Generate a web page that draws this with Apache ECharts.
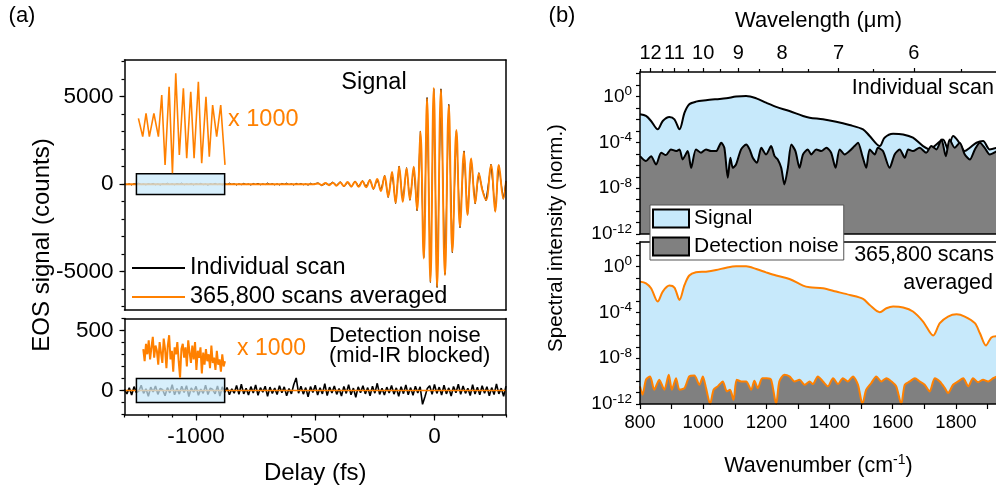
<!DOCTYPE html>
<html>
<head>
<meta charset="utf-8">
<script src="https://cdn.jsdelivr.net/npm/echarts@6/dist/echarts.min.js"></script>
<style>html,body{margin:0;padding:0;background:#fff}#c{width:996px;height:493px}</style>
</head>
<body>
<div id="c"></div>
<script>
// ================= DATA =================
// ---- (a) top: EOS signal (counts) vs delay (fs) ----
const avgDelay = [-1300, -1000, -700, -504,
  -488,-473,-457,-442,-426,-411,-395,-380,-364,-349,
  -333,-318,-302,-287,-271,-256,-240,-225,-209,-194,
  -178,-163,-148,-133,-117,-103,-87,-73,-59,-45,
  -31,-17,-3,11,27,44,60,75,92,107,
  124,139,154,171,186,201,216,237,255,270,289,300];
const avgSignal = [0, 0, 0, 0,
  40,-50,60,-60,80,-90,100,-110,120,-130,
  140,-150,160,-180,220,-260,300,-400,460,-720,
  700,-1070,990,-1010,900,-880,990,-1480,2990,-4250,
  4900,-5580,5500,-5870,5400,-5200,4510,-3870,3090,-2440,
  1850,-1770,1470,-1090,610,-350,-910,1090,-1580,1090,-820,150];

const scanFlatStart = -1300, scanFlatStep = 10;
const scanFlatSignal = [12,-30,20,-50,38,-15,55,-25,10,-45, 30,-20,45,-38,15,-55,25,-12,50,-30,
  20,-40,35,-10,60,-45,15,-25,40,-50, 25,-15,45,-35,10,-60,30,-20,50,-25,
  15,-45,38,-30,55,-15,25,-50,20,-35, 45,-25,12,-55,35,-20,50,-40,15,-30,
  60,-25,30,-45,20,-50,40,-15,55,-35, 25,-55,45,-20,35,-40,15,-60,50,-25, 30];
const scanPulseDelay = [-488,-473,-457,-442,-426,-411,-395,-380,-364,-349,
  -333,-318,-302,-287,-271,-256,-240,-225,-209,-194,
  -178,-163,-148,-133,-117,-103,-87,-73,-59,-45,
  -31,-17,-3,11,27,44,60,75,92,107,
  124,139,154,171,186,201,216,237,255,270,289,300];
const scanPulseSignal = [70,-90,30,-20,120,-60,140,-150,90,-170,
  180,-110,200,-140,260,-300,250,-360,500,-760,
  660,-1110,1030,-960,940,-920,950,-1520,3040,-4200,
  4950,-5620,5450,-5910,5450,-5160,4560,-3920,3040,-2490,
  1900,-1720,1420,-1130,650,-300,-950,1130,-1540,1050,-860,190];

// inset (x 1000) of averaged signal inside the box
const insetDelay = [-1244,-1226,-1212,-1198,-1179,-1160,-1146,-1132,-1115,-1101,-1087,-1072,
  -1055,-1041,-1024,-1010,-992,-978,-960,-946,-932,-915,-898,-880];
const insetSignalX1000 = [200,-1970,790,-1970,790,-1970,2950,-5310,3930,-6290,5510,-4130,
  3740,-4520,3340,-4520,4520,-5110,2750,-4330,1770,-1970,1770,-5310];

// ---- (a) bottom: detection noise (counts) ----
const noiseStart = -1300, noiseStep = 10;
const noiseScan = [10,-28,22,-38,32,-18,-4,44,-24,14,
  -48,28,-12,38,-32,18,6,-44,24,-20,
  48,-36,16,-30,36,-16,40,-50,22,-14,
  34,-40,12,-24,44,-34,20,8,-28,38,
  -46,30,-16,24,-36,14,-22,42,-32,52,
  -28,18,-38,32,-20,46,-40,24,-14,36,
  -48,28,-24,20,-34,40,-18,30,-44,16,
  -28,50,105,-22,36,-30,24,-52,32,-16,
  44,-38,22,-28,56,-42,28,-20,38,-32,
  16,-46,34,-24,48,-36,20,-56,30,-18,
  40,-28,24,-44,36,-22,60,-32,18,-38,
  28,-20,42,-30,22,-48,32,-26,46,-36,
  24,-40,36,-20,30,-115,-52,16,40,-32,
  50,-24,28,-38,44,-28,22,-46,34,-18,
  52,-32,38,-24,18,-42,48,-30,28,-36,
  40,-22,32,-44,24,-34,54,-28,20,-48, 36];
const avgNoiseDelay = [-1300, 300];
const avgNoiseCounts = [0, 0];
const insetNoiseStart = -1240, insetNoiseEnd = -880;
const insetNoiseX1000 = [8,-6,14,2,18,-4,10,22,-2,12,6,-10,16,4,-8,20,8,-14,12,24,-4,6,-18,10,2,16,-6,-25,8,14,
  -2,10,-12,18,4,-8,12,-4,16,-16,6,-2,10,-20,4,-10,8,-6,2,-14,12,-8,-2,-16,6,-10,-4,-18,2,-12,-6];

// box (light blue) regions magnified in the insets
const boxDelay = [-1250, -880];
const boxSignalCounts = [-600, 600];
const boxNoiseCounts = [-100, 100];

// ---- (b) spectra: wavenumber (cm-1) and log10(intensity) ----
const scanWn = [800,819,835,856,872,893,909,925,941,956,977,1009,1041,1073,1104,1136,1168,1199,1231,1273,
  1316,1337,1379,1421,1463,1506,1527,1559,1574,1601,1633,1664,1696,1717,1738,1759,1775,1791,1807,1828,
  1844,1865,1886,1907,1930];
const scanSignalLog10 = [-1.55,-1.69,-2.13,-2.86,-2.13,-1.78,-1.98,-2.86,-1.40,-0.67,-0.44,-0.32,-0.23,-0.15,0,0.06,-0.15,-0.53,-0.9,-1.26,
  -1.69,-1.84,-1.98,-2.19,-2.48,-2.86,-3.44,-4.32,-3.59,-3.24,-3.30,-3.59,-4.32,-4.61,-4.18,-3.74,-4.61,-3.44,-3.88,-4.76,
  -4.47,-4.03,-3.88,-4.61,-4.47];
const scanNoiseWn = [800,819,835,851,867,882,898,914,925,935,951,962,977,993,1009,1025,1041,1057,1067,1078,
  1086,1094,1104,1120,1136,1147,1157,1170,1184,1199,1215,1226,1236,1247,1257,1268,1279,1292,1305,1316,
  1331,1342,1358,1374,1390,1405,1419,1432,1448,1463,1479,1490,1504,1516,1527,1543,1553,1569,1590,1606,
  1622,1638,1649,1664,1685,1706,1722,1738,1754,1768,1780,1796,1812,1828,1844,1860,1876,1891,1907,1930];
const scanNoiseLog10 = [-5.20,-5.63,-5.20,-5.93,-4.90,-5.11,-4.61,-4.76,-4.61,-5.49,-4.76,-6.22,-4.61,-4.90,-4.61,-4.76,-4.76,-4.03,-4.47,-7.09,
  -5.34,-6.22,-5.93,-4.61,-4.18,-4.61,-5.34,-5.78,-4.47,-5.05,-4.32,-5.20,-5.49,-6.22,-7.68,-6.22,-4.18,-4.76,-6.22,-5.05,
  -4.61,-5.05,-4.61,-4.76,-4.47,-4.90,-6.22,-4.61,-5.05,-4.76,-4.32,-4.03,-5.20,-6.22,-4.61,-5.05,-4.47,-4.76,-6.22,-5.05,
  -4.61,-5.34,-4.61,-4.76,-4.47,-4.90,-4.32,-4.61,-3.74,-5.20,-3.74,-4.47,-4.03,-5.05,-5.49,-4.61,-4.03,-4.47,-5.05,-4.76];
const avgWn = [800,819,835,856,872,893,909,925,941,956,977,1009,1041,1073,1104,1136,1168,1199,1231,1273,
  1316,1337,1379,1421,1463,1506,1527,1559,1580,1601,1633,1664,1696,1728,1749,1775,1802,1828,1860,1876,1895,1912,1930];
const avgSignalLog10 = [-1.31,-1.46,-1.89,-3.05,-2.18,-1.66,-1.83,-2.91,-1.60,-0.78,-0.50,-0.44,-0.30,-0.09,0.03,0.03,-0.21,-0.50,-0.78,-1.08,
  -1.66,-1.80,-1.89,-2.18,-2.47,-2.82,-3.35,-3.98,-3.64,-3.49,-3.57,-3.92,-4.80,-6.02,-4.94,-4.36,-4.16,-4.36,-4.94,-5.82,-6.89,-6.19,-6.08];
const avgNoiseWn = [800,808,819,832,845,861,877,891,901,914,925,941,956,972,988,999,1009,1022,1033,1046,
  1062,1075,1085,1096,1106,1120,1136,1152,1162,1173,1187,1201,1215,1231,1241,1257,1273,1289,1305,1321,
  1337,1347,1363,1379,1395,1411,1427,1442,1458,1474,1490,1504,1516,1532,1548,1564,1580,1596,1611,1627,
  1638,1654,1670,1685,1701,1717,1733,1749,1765,1775,1791,1807,1823,1839,1854,1870,1886,1902,1918,1930];
const avgNoiseLog10 = [-10.46,-11.19,-9.88,-9.59,-10.75,-9.88,-10.75,-9.45,-10.75,-9.74,-10.75,-10.61,-9.59,-9.51,-10.32,-9.59,-10.61,-12,-10.75,-10.46,
  -10.03,-10.90,-10.75,-11.63,-9.88,-10.03,-10.03,-10.75,-9.97,-10.61,-9.74,-9.74,-9.88,-12,-10.03,-9.45,-9.59,-10.03,-9.88,-10.32,
  -10.03,-10.26,-9.59,-10.03,-10.46,-9.74,-10.26,-9.74,-10.03,-9.59,-10.32,-12,-10.75,-10.17,-9.59,-10.03,-9.74,-10.03,-10.46,-12,
  -10.32,-10.03,-9.74,-10.03,-10.32,-10.90,-9.74,-10.03,-10.61,-11.04,-10.32,-10.03,-9.74,-10.46,-9.74,-10.09,-9.88,-10.03,-9.74,-9.59];

// ---- tick labels ----
const delayLabels = [-1000, -500, 0];
const countsLabels = [-5000, 0, 5000];
const noiseLabels = [0, 500];
const wnLabels = [800, 1000, 1200, 1400, 1600, 1800];
const wavelengthLabels = [12, 11, 10, 9, 8, 7, 6];
const wavelengthMinor = [12.5, 11.5, 10.5, 9.5, 8.5, 7.5, 6.5, 5.5];
const logLabelExp = [-12, -8, -4, 0];

// ================= BUILD =================
const FONT = "'Liberation Sans', Arial, sans-serif";
const ORANGE = '#ff8000', BLUE = '#c7e9fb', GREY = '#808080';
const LINE = {color: '#000', width: 1.5};
const TICK = {color: '#000', width: 1.2};
const zip = (xs, ys) => xs.map((x, i) => [x, ys[i]]);
const zipPow = (xs, es) => xs.map((x, i) => [x, Math.pow(10, es[i])]);
const range = (a, b, s) => { const r = []; for (let v = a; v <= b + 1e-9; v += s) r.push(v); return r; };

const scanData = scanFlatSignal.map((v, i) => [scanFlatStart + i * scanFlatStep, v]).concat(zip(scanPulseDelay, scanPulseSignal));
const avgData = zip(avgDelay, avgSignal);
const insetData = zip(insetDelay, insetSignalX1000);
const noiseData = noiseScan.map((v, i) => [noiseStart + i * noiseStep, v]);
const insetNoiseStep = (insetNoiseEnd - insetNoiseStart) / (insetNoiseX1000.length - 1);
const insetNoiseData = insetNoiseX1000.map((v, i) => [insetNoiseStart + i * insetNoiseStep, v]);

const LOGMIN = 1e-12, LOGMAX = Math.pow(10, 2.15);
const decades = range(-12, 2, 1).map(e => Math.pow(10, e));
const logLabels = logLabelExp.map(e => Math.pow(10, e));

function frame(g, pos, min, max, type) {
  return {gridIndex: g, type: type || 'value', position: pos, min: min, max: max, z: 10,
    axisLine: {show: true, onZero: false, lineStyle: LINE},
    axisTick: {show: false}, axisLabel: {show: false}, splitLine: {show: false}};
}
function ticks(g, pos, min, max, vals, len, type) {
  return {gridIndex: g, type: type || 'value', position: pos, min: min, max: max, z: 10,
    axisLine: {show: false, onZero: false},
    axisTick: {show: true, customValues: vals, length: len, lineStyle: TICK},
    axisLabel: {show: false}, splitLine: {show: false}};
}
function hidden(g, min, max) {
  return {gridIndex: g, type: 'value', min: min, max: max, show: false, splitLine: {show: false}};
}
const lbl = (vals, size, margin, fmt) => ({show: true, customValues: vals, fontSize: size, margin: margin,
  color: '#000', fontFamily: FONT, formatter: fmt || (v => String(v))});
const logFmt = v => '{b|10}{s|' + Math.round(Math.log10(v)) + '}';
const logRich = {b: {fontSize: 19, fontFamily: FONT, color: '#000', lineHeight: 24},
                 s: {fontSize: 13.5, fontFamily: FONT, color: '#000', verticalAlign: 'top', lineHeight: 13}};

const xAxis = [
  frame(0, 'bottom', -1300, 300),
  frame(0, 'top', -1300, 300),
  Object.assign(frame(1, 'bottom', -1300, 300), {
    axisTick: {show: true, customValues: delayLabels, length: 6, lineStyle: TICK},
    axisLabel: lbl(delayLabels, 22.5, 11),
    name: 'Delay (fs)', nameLocation: 'middle', nameGap: 47,
    nameTextStyle: {fontSize: 24, fontFamily: FONT, color: '#000'}}),
  ticks(1, 'bottom', -1300, 300, range(-1300, 300, 100), 3),
  frame(1, 'top', -1300, 300),
  frame(2, 'bottom', 800, 1930),
  Object.assign(frame(2, 'top', 800, 1930), {
    axisTick: {show: true, customValues: wavelengthLabels.map(l => 1e4 / l), length: 4, lineStyle: TICK},
    axisLabel: lbl(wavelengthLabels.map(l => 1e4 / l), 20, 9, v => String(Math.round(1e4 / v))),
    name: 'Wavelength (\u03bcm)', nameLocation: 'middle', nameGap: 40,
    nameTextStyle: {fontSize: 22, fontFamily: FONT, color: '#000'}}),
  ticks(2, 'top', 800, 1930, wavelengthMinor.map(l => 1e4 / l), 3),
  Object.assign(frame(3, 'bottom', 800, 1930), {
    axisTick: {show: true, customValues: range(800, 1900, 100), length: 5, lineStyle: TICK},
    axisLabel: lbl(wnLabels, 18.5, 9),
    name: 'Wavenumber (cm{s|-1})', nameLocation: 'middle', nameGap: 49,
    nameTextStyle: {fontSize: 21.5, fontFamily: FONT, color: '#000', lineHeight: 26,
      rich: {s: {fontSize: 14, fontFamily: FONT, color: '#000', verticalAlign: 'top', lineHeight: 14}}}}),
  frame(3, 'top', 800, 1930),
  hidden(4, -1250, -880),
  hidden(5, -1250, -880)
];

const yAxis = [
  Object.assign(frame(0, 'left', -7200, 7100), {
    axisTick: {show: true, customValues: countsLabels, length: 5, lineStyle: TICK},
    axisLabel: lbl(countsLabels, 22.5, 11)}),
  ticks(0, 'left', -7200, 7100, range(-7000, 7000, 1000), 3),
  frame(0, 'right', -7200, 7100),
  Object.assign(frame(1, 'left', -200, 600), {
    axisTick: {show: true, customValues: noiseLabels, length: 5, lineStyle: TICK},
    axisLabel: lbl(noiseLabels, 22.5, 11)}),
  ticks(1, 'left', -200, 600, range(-200, 600, 100), 3),
  frame(1, 'right', -200, 600),
  Object.assign(frame(2, 'left', LOGMIN, LOGMAX, 'log'), {
    axisTick: {show: true, customValues: decades, length: 4, lineStyle: TICK},
    axisLabel: Object.assign(lbl(logLabels, 19, 8, logFmt), {rich: logRich})}),
  frame(2, 'right', LOGMIN, LOGMAX, 'log'),
  Object.assign(frame(3, 'left', LOGMIN, LOGMAX, 'log'), {
    axisTick: {show: true, customValues: decades, length: 4, lineStyle: TICK},
    axisLabel: Object.assign(lbl(logLabels, 19, 8, logFmt), {rich: logRich})}),
  frame(3, 'right', LOGMIN, LOGMAX, 'log'),
  hidden(4, -6500, 6500),
  hidden(5, -30, 30)
];

const boxStyle = {color: 'rgba(199,233,251,0.72)', borderColor: '#000', borderWidth: 1.5};
const line = (o) => Object.assign({type: 'line', symbol: 'none', showSymbol: false, animation: false}, o);

const series = [
  line({name: 'Individual scan', xAxisIndex: 0, yAxisIndex: 0, data: scanData, z: 2,
    lineStyle: {color: '#000', width: 1}, itemStyle: {color: '#000'}}),
  line({name: '365,800 scans averaged', xAxisIndex: 0, yAxisIndex: 0, data: avgData, smooth: 0.4, z: 3,
    lineStyle: {color: ORANGE, width: 2}, itemStyle: {color: ORANGE}}),
  line({name: 'signal box', xAxisIndex: 0, yAxisIndex: 0, data: [], z: 5,
    markArea: {silent: true, z: 5, itemStyle: boxStyle, label: {show: false},
      data: [[{coord: [boxDelay[0], boxSignalCounts[0]]}, {coord: [boxDelay[1], boxSignalCounts[1]]}]]}}),
  line({name: 'signal x1000', xAxisIndex: 10, yAxisIndex: 10, data: insetData, z: 6,
    lineStyle: {color: ORANGE, width: 1.6}, itemStyle: {color: ORANGE}}),
  line({name: 'noise scan', xAxisIndex: 2, yAxisIndex: 3, data: noiseData, z: 2,
    lineStyle: {color: '#000', width: 1.6}, itemStyle: {color: '#000'}}),
  line({name: 'noise averaged', xAxisIndex: 2, yAxisIndex: 3, data: zip(avgNoiseDelay, avgNoiseCounts), z: 3,
    lineStyle: {color: ORANGE, width: 1.5}, itemStyle: {color: ORANGE}}),
  line({name: 'noise box', xAxisIndex: 2, yAxisIndex: 3, data: [], z: 5,
    markArea: {silent: true, z: 5, itemStyle: boxStyle, label: {show: false},
      data: [[{coord: [boxDelay[0], boxNoiseCounts[0]]}, {coord: [boxDelay[1], boxNoiseCounts[1]]}]]}}),
  line({name: 'noise x1000', xAxisIndex: 11, yAxisIndex: 11, data: insetNoiseData, z: 6,
    lineStyle: {color: ORANGE, width: 2}, itemStyle: {color: ORANGE}}),
  line({name: 'Signal', xAxisIndex: 5, yAxisIndex: 6, data: zipPow(scanWn, scanSignalLog10), smooth: 0.3, z: 2,
    lineStyle: {color: '#000', width: 2}, itemStyle: {color: BLUE},
    areaStyle: {color: BLUE, opacity: 1, origin: 'start'}}),
  line({name: 'Detection noise', xAxisIndex: 5, yAxisIndex: 6, data: zipPow(scanNoiseWn, scanNoiseLog10), smooth: 0.25, z: 3,
    lineStyle: {color: '#000', width: 2}, itemStyle: {color: GREY},
    areaStyle: {color: GREY, opacity: 1, origin: 'start'}}),
  line({name: 'Signal averaged', xAxisIndex: 8, yAxisIndex: 8, data: zipPow(avgWn, avgSignalLog10), smooth: 0.3, z: 2,
    lineStyle: {color: ORANGE, width: 2}, itemStyle: {color: BLUE},
    areaStyle: {color: BLUE, opacity: 1, origin: 'start'}}),
  line({name: 'Detection noise averaged', xAxisIndex: 8, yAxisIndex: 8, data: zipPow(avgNoiseWn, avgNoiseLog10), smooth: 0.25, z: 3,
    lineStyle: {color: ORANGE, width: 2}, itemStyle: {color: GREY},
    areaStyle: {color: GREY, opacity: 1, origin: 'start'}})
];

const txt = (t, x, y, size, align, extra) => Object.assign({type: 'text', x: x, y: y, z: 100,
  style: {text: t, fontSize: size, fontFamily: FONT, fill: '#000',
    textAlign: align || 'center', align: align || 'center', textVerticalAlign: 'middle', verticalAlign: 'middle'}}, extra || {});

const graphic = [
  txt('(a)', 22, 16, 22),
  txt('(b)', 562, 16, 22),
  txt('Signal', 374, 83, 23.5),
  txt('x 1000', 228, 120, 23.5, 'left'),
  txt('Detection noise', 329, 336, 22, 'left'),
  txt('(mid-IR blocked)', 329, 356, 22, 'left'),
  txt('x 1000', 237, 349, 23, 'left'),
  txt('EOS signal (counts)', 42, 245, 24, 'center', {rotation: Math.PI / 2}),
  txt('Spectral intensity (norm.)', 556, 238, 20.5, 'center', {rotation: Math.PI / 2}),
  txt('Individual scan', 994, 88, 21.5, 'right'),
  txt('365,800 scans', 994, 255, 21.5, 'right'),
  txt('averaged', 993, 283, 21.5, 'right')
];
graphic.forEach(g => { if (g.style.text === 'x 1000') g.style.fill = ORANGE; });

const option = {
  animation: false,
  backgroundColor: '#fff',
  textStyle: {fontFamily: FONT, color: '#000'},
  grid: [
    {left: 124.5, top: 60, width: 381.5, height: 250},
    {left: 124.5, top: 318.5, width: 381.5, height: 96},
    {left: 640, top: 72, width: 357, height: 162},
    {left: 640, top: 242, width: 357, height: 162},
    {left: 137, top: 65, width: 88, height: 110},
    {left: 141, top: 330, width: 84, height: 52}
  ].map(g => Object.assign({show: false, containLabel: false, outerBoundsMode: 'none'}, g)),
  xAxis: xAxis,
  yAxis: yAxis,
  legend: [
    {left: 132, top: 256, orient: 'vertical', itemGap: 5, itemWidth: 53, itemHeight: 2, icon: 'rect',
      padding: 0, selectedMode: false, z: 20,
      textStyle: {fontSize: 23.5, fontFamily: FONT, color: '#000'},
      data: [{name: 'Individual scan', itemStyle: {color: '#000', borderWidth: 0}},
             {name: '365,800 scans averaged', itemStyle: {color: ORANGE, borderWidth: 0}}]},
    {left: 650, top: 205, orient: 'vertical', itemGap: 7, itemWidth: 36, itemHeight: 18, icon: 'rect',
      padding: [3, 5, 3, 2], backgroundColor: '#fff', borderColor: '#555', borderWidth: 1,
      selectedMode: false, z: 20,
      textStyle: {fontSize: 21, fontFamily: FONT, color: '#000'},
      data: [{name: 'Signal', itemStyle: {color: BLUE, borderColor: '#000', borderWidth: 2}},
             {name: 'Detection noise', itemStyle: {color: GREY, borderColor: '#000', borderWidth: 2}}]}
  ],
  graphic: graphic,
  series: series
};

const chart = echarts.init(document.getElementById('c'), null, {renderer: 'canvas', width: 996, height: 493});
chart.setOption(option);
</script>
</body>
</html>
